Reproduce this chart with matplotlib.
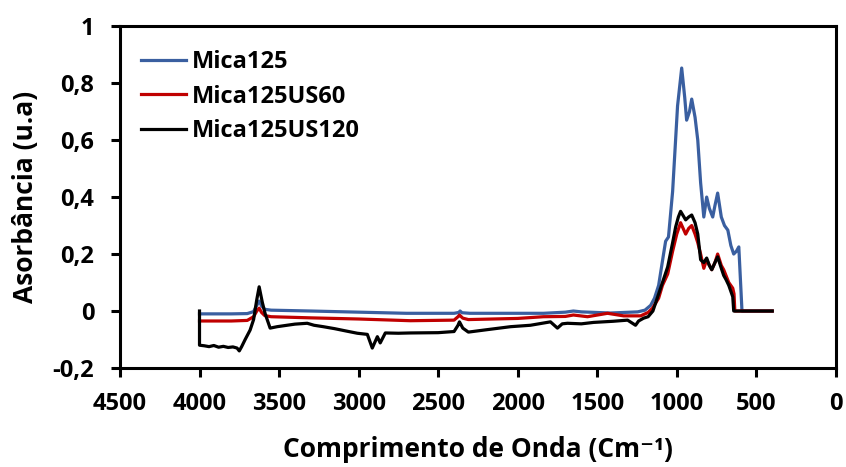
import matplotlib
matplotlib.use("Agg")
import matplotlib.pyplot as plt
from matplotlib.ticker import FuncFormatter

plt.rcParams['font.family'] = ['Open Sans', 'DejaVu Sans']
plt.rcParams['font.weight'] = 'bold'

# Mica125
wn_mica = [4000, 3800, 3700, 3660, 3640, 3625, 3610, 3590, 3550, 3300, 3000, 2700,
           2400, 2370, 2362, 2350, 2300, 2000, 1838, 1700, 1650, 1600, 1416, 1246,
           1200, 1164, 1140, 1114, 1083, 1070, 1052, 1026, 995, 969, 950, 938, 920,
           906, 885, 868, 850, 830, 812, 795, 774, 760, 743, 720, 700, 679, 660, 642,
           625, 610, 590, 400]
abs_mica = [-0.01, -0.01, -0.009, -0.002, 0.02, 0.035, 0.018, 0.006, 0.003, 0.0, -0.004, -0.008,
            -0.008, -0.005, 0.0, -0.006, -0.008, -0.008, -0.008, -0.004, 0.0, -0.003, -0.007, -0.003,
            0.003, 0.02, 0.045, 0.09, 0.2, 0.245, 0.26, 0.42, 0.72, 0.853, 0.75, 0.67, 0.70,
            0.744, 0.68, 0.60, 0.45, 0.33, 0.40, 0.36, 0.33, 0.37, 0.414, 0.33, 0.30, 0.284, 0.23, 0.20,
            0.21, 0.225, 0.0, 0.0]

# Mica125US60
wn_us60 = [4000, 3800, 3700, 3660, 3640, 3625, 3610, 3590, 3550, 3300, 3000, 2675,
           2400, 2375, 2366, 2345, 2310, 2000, 1838, 1700, 1650, 1561, 1435, 1334,
           1227, 1180, 1152, 1114, 1090, 1057, 1026, 1000, 976, 960, 944, 925, 906,
           885, 868, 850, 830, 812, 795, 780, 760, 743, 720, 705, 673, 648, 640, 635, 400]
abs_us60 = [-0.035, -0.035, -0.033, -0.02, 0.0, 0.01, -0.005, -0.016, -0.02, -0.024, -0.028, -0.034,
            -0.032, -0.02, -0.014, -0.025, -0.03, -0.026, -0.02, -0.019, -0.014, -0.02, -0.008, -0.017,
            -0.017, -0.005, 0.01, 0.045, 0.09, 0.13, 0.21, 0.27, 0.31, 0.29, 0.27, 0.29, 0.30,
            0.27, 0.24, 0.20, 0.15, 0.18, 0.16, 0.145, 0.17, 0.20, 0.16, 0.145, 0.10, 0.08, 0.06, 0.0, 0.0]

# Mica125US120
wn_us120 = [4000, 4000, 3970, 3940, 3910, 3880, 3850, 3820, 3790, 3764, 3750, 3735,
            3713, 3682, 3660, 3640, 3625, 3605, 3587, 3556, 3512, 3450, 3400, 3323,
            3280, 3222, 3150, 3080, 3008, 2945, 2914, 2882, 2864, 2832, 2750, 2675,
            2500, 2400, 2375, 2366, 2345, 2310, 2200, 2045, 1920, 1794, 1750, 1720,
            1687, 1600, 1523, 1400, 1309, 1259, 1240, 1208, 1180, 1150, 1120, 1090,
            1057, 1026, 1007, 990, 976, 960, 944, 925, 906, 885, 868, 850, 830, 812,
            795, 780, 760, 743, 720, 705, 690, 673, 648, 642, 400]
abs_us120 = [0.0, -0.12, -0.122, -0.125, -0.121, -0.127, -0.124, -0.128, -0.126, -0.13, -0.14, -0.125,
             -0.10, -0.067, -0.03, 0.04, 0.085, 0.03, -0.01, -0.06, -0.055, -0.05, -0.046, -0.043,
             -0.05, -0.055, -0.062, -0.07, -0.078, -0.082, -0.13, -0.09, -0.112, -0.077, -0.078, -0.077,
             -0.076, -0.072, -0.05, -0.038, -0.06, -0.074, -0.066, -0.055, -0.05, -0.038, -0.06, -0.045,
             -0.043, -0.045, -0.04, -0.036, -0.032, -0.05, -0.035, -0.025, -0.02, 0.0, 0.05, 0.10,
             0.155, 0.24, 0.295, 0.33, 0.35, 0.335, 0.32, 0.33, 0.337, 0.31, 0.27, 0.18, 0.17, 0.186,
             0.16, 0.145, 0.17, 0.19, 0.15, 0.125, 0.11, 0.09, 0.05, 0.0, 0.0]

series = [("Mica125", wn_mica, abs_mica, "#3a5fa0"),
          ("Mica125US60", wn_us60, abs_us60, "#c00000"),
          ("Mica125US120", wn_us120, abs_us120, "#000000")]

fig = plt.figure(figsize=(8.46, 4.67), dpi=100)
ax = fig.add_axes([0.1418, 0.212, 0.8462, 0.732])

for nome, x, y, cor in series:
    ax.plot(x, y, color=cor, lw=2.3, label=nome)

ax.set_xlim(4500, 0)
ax.set_ylim(-0.2, 1)
ax.set_xticks(range(4500, -1, -500))
ax.set_yticks([-0.2, 0, 0.2, 0.4, 0.6, 0.8, 1])
ax.yaxis.set_major_formatter(FuncFormatter(lambda v, p: ("%g" % round(v, 1)).replace(".", ",")))

for s in ax.spines.values():
    s.set_linewidth(2.2)
ax.tick_params(axis='both', labelsize=17, width=2.2, length=6.5, direction='out')
ax.tick_params(axis='x', pad=11)
ax.tick_params(axis='y', pad=12)

ax.set_xlabel("Comprimento de Onda (Cm\u207b\u00b9)", fontsize=19, fontweight='bold', labelpad=14)
ax.set_ylabel("Asorbância (u.a)", fontsize=19, fontweight='bold', labelpad=10)

leg = ax.legend(loc='upper left', bbox_to_anchor=(0.03, 0.93), frameon=False, fontsize=17,
                handlelength=1.9, handletextpad=0.25, labelspacing=0.45,
                borderaxespad=0, borderpad=0)
for linha in leg.get_lines():
    linha.set_linewidth(2.3)

fig.savefig("out.png", dpi=100)
